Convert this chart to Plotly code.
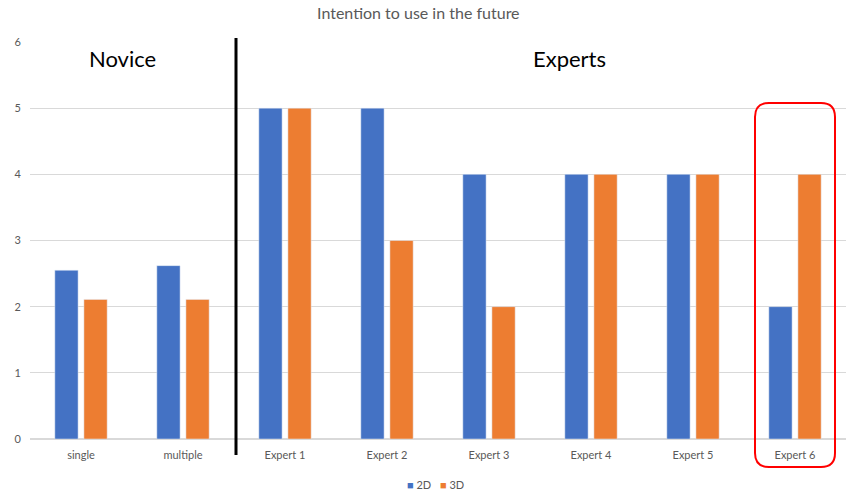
import plotly.graph_objects as go

# data
categories = ["single", "multiple", "Expert 1", "Expert 2", "Expert 3",
              "Expert 4", "Expert 5", "Expert 6"]
series_names = ["2D", "3D"]
values_2d = [2.55, 2.62, 5, 5, 4, 4, 4, 2]
values_3d = [2.11, 2.11, 5, 3, 2, 4, 4, 4]
colors = ["#4472C4", "#ED7D31"]

W, H = 847, 494
L, R, T, B = 30, 1, 42, 55
pw = W - L - R
ph = H - T - B


def px(x):
    # reference pixel -> paper fraction
    return (x - L) / pw


def py(y):
    return (H - B - y) / ph


fig = go.Figure()
fig.add_trace(go.Bar(x=categories, y=values_2d, name=series_names[0], marker_color=colors[0]))
fig.add_trace(go.Bar(x=categories, y=values_3d, name=series_names[1], marker_color=colors[1]))

# rounded red box around Expert 6
x0, x1, y0, y1, r = 755, 835, 103, 467, 14
rx, ry = r / pw, r / ph
a, b = px(x0), px(x1)
top, bot = py(y0), py(y1)
path = (f"M {a+rx},{top} L {b-rx},{top} Q {b},{top} {b},{top-ry} "
        f"L {b},{bot+ry} Q {b},{bot} {b-rx},{bot} "
        f"L {a+rx},{bot} Q {a},{bot} {a},{bot+ry} "
        f"L {a},{top-ry} Q {a},{top} {a+rx},{top} Z")

# small legend drawn as text so the entries sit close together like the original
legend_notes = []
for name, col, lx in zip(series_names, colors, [419, 452]):
    legend_notes.append(dict(
        text=f"<span style='color:{col}'>■</span> {name}",
        xref="paper", yref="paper", x=px(lx), y=py(484),
        xanchor="center", yanchor="middle", showarrow=False,
        font=dict(size=11, color="#595959")))

fig.update_layout(
    width=W, height=H,
    margin=dict(l=L, r=R, t=T, b=B, autoexpand=False),
    paper_bgcolor="white", plot_bgcolor="white",
    font=dict(family="Lato", color="#595959", size=11),
    title=dict(text="Intention to use in the future", x=px(433), y=1 - 13 / H,
               xanchor="center", yanchor="middle",
               font=dict(size=16, color="#595959")),
    barmode="group", bargap=0.43, bargroupgap=0.2,
    showlegend=False,
    xaxis=dict(showgrid=False, showline=True, linecolor="#D9D9D9",
               tickfont=dict(size=11, color="#595959"), ticks="",
               ticklabelstandoff=6),
    yaxis=dict(range=[0, 6], dtick=1, showgrid=True, gridcolor="#D9D9D9",
               zeroline=True, zerolinecolor="#D9D9D9",
               tickfont=dict(size=11, color="#595959"), ticklabelstandoff=8),
    shapes=[
        dict(type="line", xref="paper", yref="paper",
             x0=px(236), x1=px(236), y0=py(38), y1=py(455),
             line=dict(color="black", width=3)),
        dict(type="path", xref="paper", yref="paper", path=path,
             line=dict(color="#FF0000", width=2)),
    ],
    annotations=[
        dict(text="Novice", xref="paper", yref="paper", x=px(122), y=py(58),
             xanchor="center", yanchor="middle",
             showarrow=False, font=dict(size=22, color="black")),
        dict(text="Experts", xref="paper", yref="paper", x=px(569), y=py(58),
             xanchor="center", yanchor="middle",
             showarrow=False, font=dict(size=22, color="black")),
    ] + legend_notes,
)

# drop the browser's default 8px body margin so the figure fills the window
fig.write_html("out.html", config={"displayModeBar": False},
               post_script="document.body.style.margin = '0px';")
